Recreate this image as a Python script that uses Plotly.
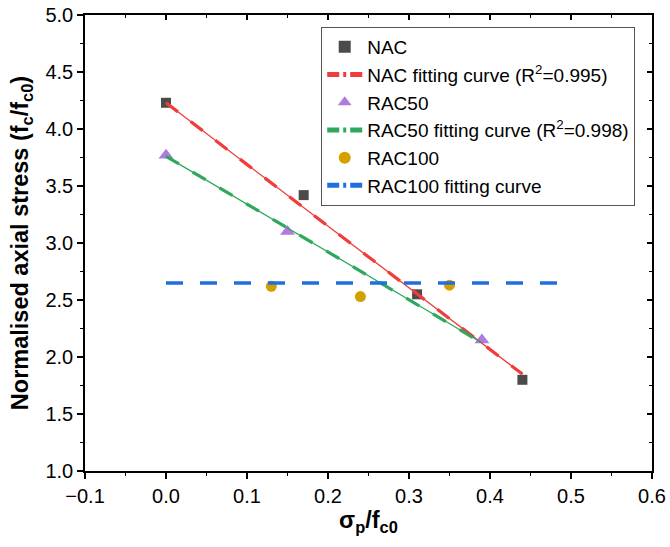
import plotly.graph_objects as go

# ---- data ----
nac_x = [0.0, 0.17, 0.31, 0.44]
nac_y = [4.23, 3.42, 2.55, 1.80]
rac50_x = [0.0, 0.15, 0.39]
rac50_y = [3.77, 3.10, 2.15]
rac100_x = [0.13, 0.24, 0.35]
rac100_y = [2.62, 2.53, 2.63]

nac_fit_x = [0.0, 0.44]
nac_fit_y = [4.23, 1.85]
rac50_fit_x = [0.0, 0.39]
rac50_fit_y = [3.76, 2.125]
rac100_fit_x = [0.0, 0.5]
rac100_fit_y = [2.65, 2.65]

names = ["NAC", "NAC fitting curve (R<sup>2</sup>=0.995)", "RAC50",
         "RAC50 fitting curve (R<sup>2</sup>=0.998)", "RAC100", "RAC100 fitting curve"]

C_NAC = "#4b4b4b"
C_R50 = "#b07ae0"
C_R100 = "#d4a000"
C_RED = "#f03c3c"
C_GRN = "#2fa85e"
C_BLU = "#1f6fe0"

FONT = "Liberation Sans, Arial, sans-serif"

fig = go.Figure()

# markers (drawn first, lines on top)
fig.add_trace(go.Scatter(x=nac_x, y=nac_y, mode="markers", showlegend=False,
                         marker=dict(symbol="square", size=10, color=C_NAC)))
fig.add_trace(go.Scatter(x=rac50_x, y=rac50_y, mode="markers", showlegend=False,
                         marker=dict(symbol="triangle-up", size=13, color=C_R50)))
fig.add_trace(go.Scatter(x=rac100_x, y=rac100_y, mode="markers", showlegend=False,
                         marker=dict(symbol="circle", size=11, color=C_R100)))

# fitting lines: thin solid + thicker dashes
for fx, fy, c in [(nac_fit_x, nac_fit_y, C_RED), (rac50_fit_x, rac50_fit_y, C_GRN)]:
    fig.add_trace(go.Scatter(x=fx, y=fy, mode="lines", showlegend=False,
                             line=dict(color=c, width=1.3)))
    fig.add_trace(go.Scatter(x=fx, y=fy, mode="lines", showlegend=False,
                             line=dict(color=c, width=3.2, dash="15px,16px")))
fig.add_trace(go.Scatter(x=rac100_fit_x, y=rac100_fit_y, mode="lines", showlegend=False,
                         line=dict(color=C_BLU, width=3.5, dash="17px,17px")))

# legend proxies
LEG_DASH = "12px,4px,3px,4px,12px,200px"
fig.add_trace(go.Scatter(x=[None], y=[None], mode="markers", name=names[0], legendrank=1,
                         marker=dict(symbol="square", size=10, color=C_NAC)))
fig.add_trace(go.Scatter(x=[None], y=[None], mode="lines", name=names[1], legendrank=2,
                         line=dict(color=C_RED, width=3, dash=LEG_DASH)))
fig.add_trace(go.Scatter(x=[None], y=[None], mode="markers", name=names[2], legendrank=3,
                         marker=dict(symbol="triangle-up", size=13, color=C_R50)))
fig.add_trace(go.Scatter(x=[None], y=[None], mode="lines", name=names[3], legendrank=4,
                         line=dict(color=C_GRN, width=3, dash=LEG_DASH)))
fig.add_trace(go.Scatter(x=[None], y=[None], mode="markers", name=names[4], legendrank=5,
                         marker=dict(symbol="circle", size=11, color=C_R100)))
fig.add_trace(go.Scatter(x=[None], y=[None], mode="lines", name=names[5], legendrank=6,
                         line=dict(color=C_BLU, width=3, dash=LEG_DASH)))

# dummy trace for mirror axes
fig.add_trace(go.Scatter(x=[None], y=[None], xaxis="x2", yaxis="y2", showlegend=False,
                         hoverinfo="skip"))

XR = [-0.1, 0.6]
YR = [1.0, 5.0]

fig.update_layout(
    width=670, height=547,
    margin=dict(l=85, r=18, t=15, b=76, autoexpand=False),
    plot_bgcolor="white", paper_bgcolor="white",
    font=dict(family=FONT, size=20, color="black"),
    xaxis=dict(range=XR, dtick=0.1, tick0=0, tickformat=".1f", automargin=False,
               showgrid=False, zeroline=False, showline=True, linecolor="black", linewidth=1.5,
               ticks="outside", ticklen=6, tickwidth=1.5, tickcolor="black",
               minor=dict(dtick=0.05, ticks="outside", ticklen=3, tickwidth=1.2, tickcolor="black"),
               title=dict(text="<b>σ<sub>p</sub>/f<sub>c0</sub></b>", font=dict(size=23.5), standoff=6),
               tickfont=dict(size=20)),
    yaxis=dict(range=YR, dtick=0.5, tickformat=".1f", automargin=False,
               showgrid=False, zeroline=False, showline=True, linecolor="black", linewidth=1.5,
               ticks="outside", ticklen=6, tickwidth=1.5, tickcolor="black",
               minor=dict(dtick=0.25, ticks="outside", ticklen=3, tickwidth=1.2, tickcolor="black"),
               title=dict(text="<b>Normalised axial stress (f<sub>c</sub>/f<sub>c0</sub>)</b>",
                          font=dict(size=23.5), standoff=10),
               tickfont=dict(size=20)),
    xaxis2=dict(range=XR, overlaying="x", side="top", anchor="y", dtick=0.1, tick0=0,
                automargin=False,
                showgrid=False, zeroline=False, showline=True, linecolor="black", linewidth=1.5,
                ticks="inside", ticklen=5, tickwidth=1.5, tickcolor="black", showticklabels=False,
                minor=dict(dtick=0.05, ticks="inside", ticklen=3, tickwidth=1.2, tickcolor="black")),
    yaxis2=dict(range=YR, overlaying="y", side="right", anchor="x", dtick=0.5,
                automargin=False,
                showgrid=False, zeroline=False, showline=True, linecolor="black", linewidth=1.5,
                ticks="inside", ticklen=5, tickwidth=1.5, tickcolor="black", showticklabels=False,
                minor=dict(dtick=0.25, ticks="inside", ticklen=3, tickwidth=1.2, tickcolor="black")),
    legend=dict(x=0.4166, y=0.9737, xanchor="left", yanchor="top",
                bgcolor="white", bordercolor="#555555", borderwidth=1,
                font=dict(family=FONT, size=19, color="black"),
                itemwidth=35, tracegroupgap=0, itemsizing="constant"),
    showlegend=True,
)

fig.write_html("out.html")
